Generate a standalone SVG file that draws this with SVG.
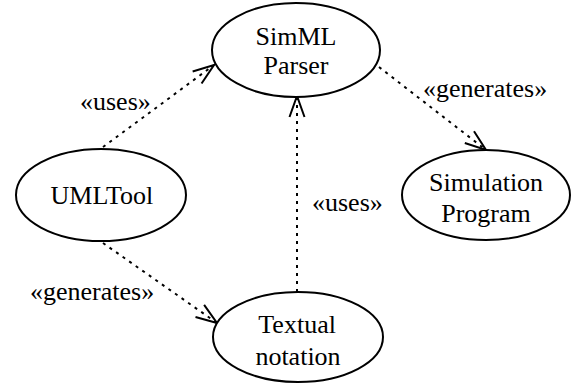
<svg xmlns="http://www.w3.org/2000/svg" xmlns:xlink="http://www.w3.org/1999/xlink" width="574" height="383" viewBox="0 0 574 383">
<style>
.shape{fill:#fff;stroke:#000;stroke-width:2}
.dep{stroke:#000;stroke-width:2;stroke-dasharray:3 5;fill:none}
.head{fill:none;stroke:#000;stroke-width:2}
</style>
<defs>
<path id="arrowhead" class="head" d="M-21,-7.5 L0,0 L-21,7.5"/>
</defs>
<rect width="574" height="383" fill="#fff"/>
<g id="connectors">
<line class="dep" x1="103" y1="147" x2="214" y2="65"/>
<use href="#arrowhead" xlink:href="#arrowhead" transform="translate(214,65) rotate(-36.46)"/>
<line class="dep" x1="297" y1="292" x2="297" y2="96"/>
<use href="#arrowhead" xlink:href="#arrowhead" transform="translate(297,96) rotate(-90)"/>
<line class="dep" x1="379" y1="67" x2="486" y2="150"/>
<use href="#arrowhead" xlink:href="#arrowhead" transform="translate(486,150) rotate(37.8)"/>
<line class="dep" x1="103" y1="243" x2="217" y2="323"/>
<use href="#arrowhead" xlink:href="#arrowhead" transform="translate(217,323) rotate(35.06)"/>
</g>
<g id="labels">
<text x="80" y="110" font-family="Liberation Serif" font-size="26">«uses»</text>
<text x="312" y="211" font-family="Liberation Serif" font-size="26">«uses»</text>
<text x="423" y="97" font-family="Liberation Serif" font-size="26">«generates»</text>
<text x="30" y="300" font-family="Liberation Serif" font-size="26">«generates»</text>
</g>
<g id="simml">
<ellipse class="shape" cx="296" cy="50" rx="84" ry="47"/>
<text x="255.5" y="45" font-family="Liberation Serif" font-size="26">SimML</text>
<text x="263.5" y="74" font-family="Liberation Serif" font-size="26">Parser</text>
</g>
<g id="umltool">
<ellipse class="shape" cx="101" cy="195" rx="85" ry="46"/>
<text x="50.5" y="204" font-family="Liberation Serif" font-size="26">UMLTool</text>
</g>
<g id="textual">
<ellipse class="shape" cx="298" cy="337" rx="85" ry="45"/>
<text x="258.3" y="333" font-family="Liberation Serif" font-size="26">Textual</text>
<text x="255.4" y="365" font-family="Liberation Serif" font-size="26">notation</text>
</g>
<g id="simulation">
<ellipse class="shape" cx="486" cy="195" rx="84" ry="45"/>
<text x="429" y="191" font-family="Liberation Serif" font-size="26">Simulation</text>
<text x="441.2" y="222" font-family="Liberation Serif" font-size="26">Program</text>
</g>
</svg>
